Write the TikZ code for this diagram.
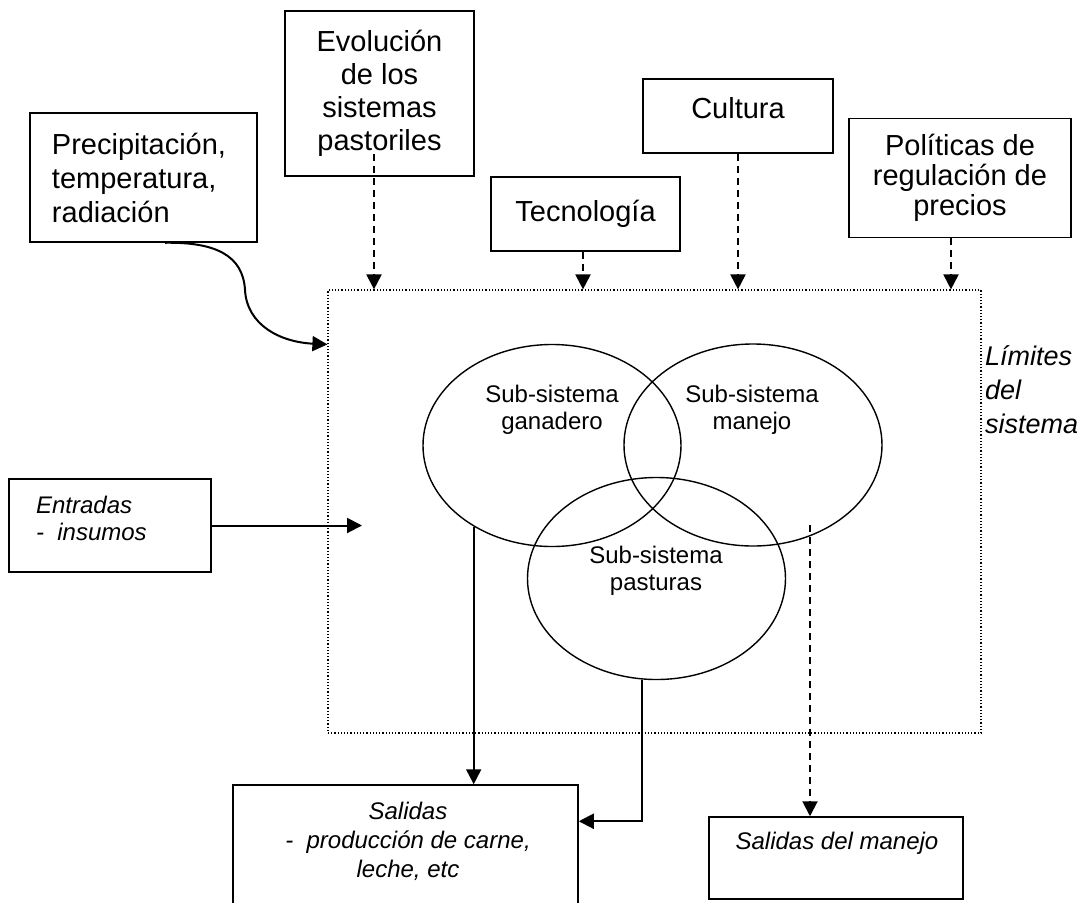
\documentclass[tikz,border=0pt]{standalone}
\usepackage{fontspec}
\setmainfont{Liberation Sans}
\usetikzlibrary{arrows.meta,shapes.geometric,positioning}

\tikzset{
    caja/.style={draw, line width=0.75pt, inner sep=0pt},
    grande/.style={font=\fontsize{14.5}{16.5}\selectfont, align=center},
    chico/.style={font=\fontsize{12}{13.3}\selectfont, align=center},
    cursiva/.style={font=\fontsize{12}{14.5}\selectfont\itshape, align=center},
    subsis/.style={ellipse, draw, line width=0.7pt, minimum width=129pt, minimum height=101pt},
    flecha/.style={-{Triangle[length=7.5pt,width=7.5pt]}, line width=1pt},
    flechapunt/.style={flecha, dash pattern=on 3.5pt off 2.5pt}
}

\begin{document}
\begin{tikzpicture}[x=0.5pt, y=-0.5pt]
    \useasboundingbox (0,0) rectangle (1084,902);

    \node[caja, grande, align=left, minimum width=113.5pt, minimum height=64.5pt, text width=91.5pt, inner xsep=11pt, font=\fontsize{14.5}{17}\selectfont] (prec) at (143.5,177.5) {Precipitación,\\temperatura,\\radiación};
    \node[caja, grande, minimum width=94.5pt, minimum height=82.5pt] (evo) at (379.5,93.5) {Evolución\\de los\\sistemas\\pastoriles};
    \node[caja, grande, minimum width=94.5pt, minimum height=37pt] (tec) at (585.5,214) {Tecnología};
    \node[caja, minimum width=95pt, minimum height=37pt] (cult) at (738,116) {};
    \node[grande] at (738,108) {Cultura};
    \node[caja, grande, minimum width=111pt, minimum height=59.5pt, font=\fontsize{14.5}{15}\selectfont] (pol) at (960,178) {Políticas de\\regulación de\\precios};

    \node[draw, densely dotted, line width=0.6pt, minimum width=326.5pt, minimum height=221.5pt, inner sep=0pt] (lim) at (654.5,511.5) {};
    \node[font=\fontsize{13.5}{17}\selectfont\itshape, anchor=west, align=left] at (978,390) {Límites\\del\\sistema};

    \node[subsis] (gan) at (552,445.5) {};
    \node[subsis] (man) at (753,445) {};
    \node[subsis] (pas) at (656.5,578.5) {};
    \node[chico] at (552,410) {Sub-sistema\\ganadero};
    \node[chico] at (752,410) {Sub-sistema\\manejo};
    \node[chico] at (656,571) {Sub-sistema\\pasturas};

    \node[caja, minimum width=101pt, minimum height=46.5pt] (ent) at (110,525.5) {};
    \node[cursiva, anchor=west, align=left, font=\fontsize{12}{13.5}\selectfont\itshape] at (29,518.5) {Entradas\\-\ \ insumos};
    \node[caja, minimum width=172.5pt, minimum height=85pt] (sal) at (405.5,870) {};
    \node[cursiva] at (408,841) {Salidas\\-\ \ producción de carne,\\leche, etc};
    \node[caja, minimum width=127pt, minimum height=41pt] (smej) at (836,858) {};
    \node[cursiva] at (837,843) {Salidas del manejo};

    \coordinate (evoout) at ([xshift=-2.75pt,yshift=11.5pt]evo.south);
    \coordinate (tecout) at ([xshift=-1.25pt]tec.south);
    \coordinate (polout) at ([xshift=-4.5pt]pol.south);
    \draw[flechapunt] (evoout) -- (evoout |- lim.north);
    \draw[flechapunt] (tecout) -- (tecout |- lim.north);
    \draw[flechapunt] (cult.south) -- (cult.south |- lim.north);
    \draw[flechapunt] (polout) -- (polout |- lim.north);

    \coordinate (precout) at ([xshift=10.75pt]prec.south);
    \coordinate (limin) at ([yshift=-27.5pt]lim.north west);
    \draw[flecha] (precout) .. controls (215,242) and (243,255) .. (245,290)
        .. controls (247,325) and (280,342) .. (limin);

    \coordinate (entin) at (362,525.5);
    \draw[flecha] (ent.east) -- (entin);

    \draw[flecha] (gan.226.6) -- (gan.226.6 |- sal.north);
    \draw[flecha] (pas.262.3) |- ([yshift=-18.5pt]sal.north east);
    \coordinate (manout) at (810,525);
    \draw[flechapunt] (manout) -- (manout |- smej.north);
\end{tikzpicture}
\end{document}
